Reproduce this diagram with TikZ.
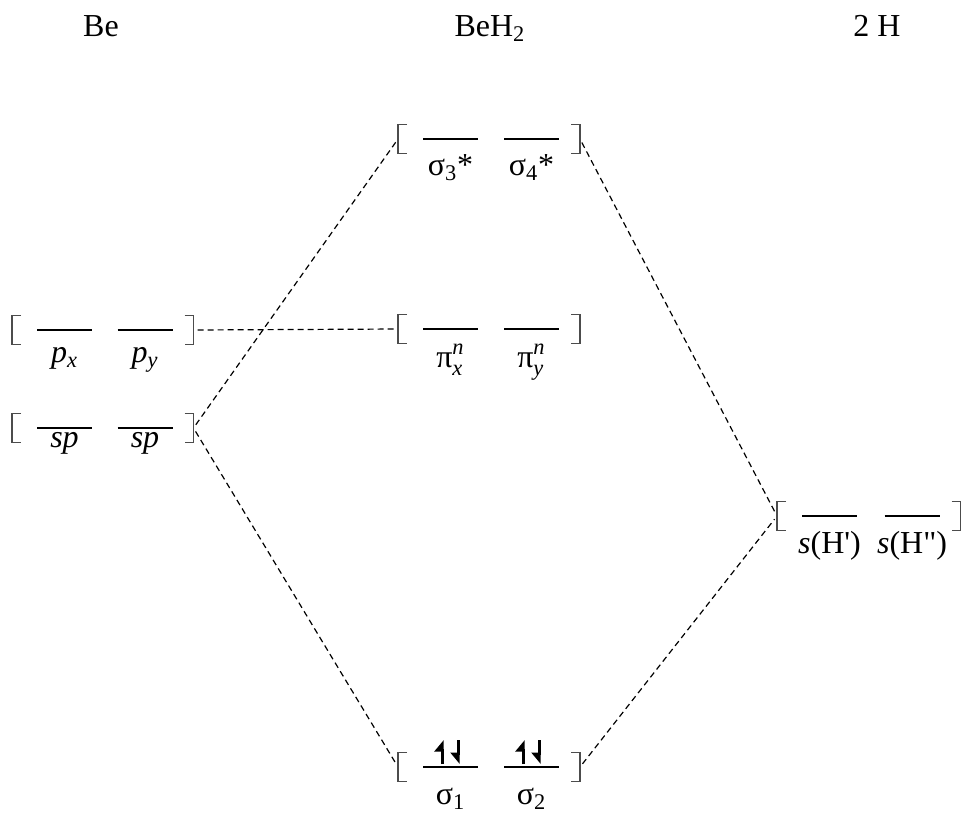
\documentclass[tikz,border=0pt]{standalone}
\usepackage{amsmath}
\usepackage{fontspec}
\setmainfont{Liberation Serif}
\usepackage{tikz}
\usetikzlibrary{arrows.meta}

\begin{document}
\begin{tikzpicture}[
		x=0.5pt, y=-0.5pt,
		font=\fontsize{16}{19}\selectfont,
		orb/.style={minimum width=27.5pt, minimum height=0pt, inner sep=0pt, outer sep=0pt,
			append after command={(\tikzlastnode.west) edge[line width=1pt] (\tikzlastnode.east)}},
		brk/.style={minimum width=4.5pt, minimum height=14.5pt, inner sep=0pt, outer sep=0pt},
		brkline/.style={draw=black!70, line width=0.6pt},
		lab/.style={anchor=base, inner sep=0pt},
		title/.style={anchor=base},
		conn/.style={dash pattern=on 3pt off 2pt, line width=0.6pt, shorten <=2pt, shorten >=2pt},
		spinup/.style={line width=1.2pt, -{Triangle[left, length=5pt, width=8pt]}},
		spindown/.style={line width=1.2pt, -{Triangle[right, length=5pt, width=8pt]}}
		]
		\useasboundingbox (0,0) rectangle (962,815);
		
		% Column titles
		\node[title] (t-be) at (101,36) {Be};
		\node[title] (t-beh) at (490,36) {BeH\textsubscript{2}};
		\node[title] (t-h) at (877,36) {2 H};
		
		% Levels: name / centre a / centre b / height / label offset / labels
		\foreach \nm/\ca/\cb/\y/\off/\labA/\labB in {
			bep/64.5/145/330/32/{\textit{p}\textsubscript{\textit{x}}}/{\textit{p}\textsubscript{\textit{y}}},
			besp/64.5/145/428/19/{\textit{sp}}/{\textit{sp}},
			sigs/450.5/531.5/139/36/{σ\textsubscript{3}*}/{σ\textsubscript{4}*},
			pi/450.5/531.5/329/38/{π$_{\textit{x}}^{\textit{n}}$}/{π$_{\textit{y}}^{\textit{n}}$},
			sig/450.5/531.5/767/37/{σ\textsubscript{1}}/{σ\textsubscript{2}},
			h/829.5/912/516/37/{\textit{s}(H\textquotesingle)}/{\textit{s}(H\textquotedbl)}}
		{
			\node[orb] (\nm-a) at (\ca,\y) {};
			\node[orb] (\nm-b) at (\cb,\y) {};
			\node[brk] (\nm-l) at (\ca-48,\y) {};
			\node[brk] (\nm-r) at (\cb+44,\y) {};
			\draw[brkline] (\nm-l.north east) -| (\nm-l.south west) -- (\nm-l.south east);
			\draw[brkline] (\nm-r.north west) -| (\nm-r.south east) -- (\nm-r.south west);
			\node[lab] (\nm-la) at (\ca,\y+\off) {\labA};
			\node[lab] (\nm-lb) at (\cb,\y+\off) {\labB};
		}
		
		% Electrons in the bonding orbitals
		\draw[spinup] ([xshift=-4pt, yshift=1.5pt]sig-a.center) -- ++(0,-24);
		\draw[spindown] ([xshift=4pt, yshift=13.5pt]sig-a.center) -- ++(0,24);
		\draw[spinup] ([xshift=-4pt, yshift=1.5pt]sig-b.center) -- ++(0,-24);
		\draw[spindown] ([xshift=4pt, yshift=13.5pt]sig-b.center) -- ++(0,24);
		
		% Correlation lines
		\draw[conn] (bep-r.east) -- (pi-l.west);
		\draw[conn] (besp-r.east) -- (sigs-l.west);
		\draw[conn] (besp-r.east) -- (sig-l.west);
		\draw[conn] (sigs-r.east) -- (h-l.west);
		\draw[conn] (sig-r.east) -- (h-l.west);
		
	\end{tikzpicture}
\end{document}
